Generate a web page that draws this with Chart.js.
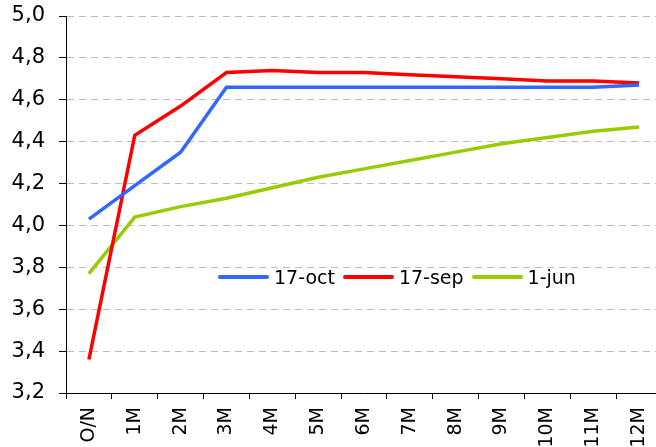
<!DOCTYPE html>
<html>
<head>
<meta charset="utf-8">
<script src="https://cdn.jsdelivr.net/npm/chart.js@4/dist/chart.umd.min.js"></script>
<style>
  html, body { margin: 0; padding: 0; background: #fff; overflow: hidden; }
  #wrap { position: relative; width: 662px; height: 447px; }
  #legend {
    position: absolute; left: 218px; top: 266px;
    font-family: "DejaVu Sans", Verdana, sans-serif; font-size: 19px; color: #000;
    display: flex; align-items: center; white-space: nowrap;
  }
  .item { display: flex; align-items: center; margin-right: 8px; }
  .swatch { width: 51px; height: 4px; border-radius: 2px; margin-right: 5px; }
</style>
</head>
<body>
<div id="wrap">
  <canvas id="curvaChart" width="662" height="447"></canvas>
  <div id="legend"></div>
</div>
<script>
// Plazos de la curva
const plazos = ['O/N', '1M', '2M', '3M', '4M', '5M', '6M', '7M', '8M', '9M', '10M', '11M', '12M'];

// Series (tipos %)
const oct17 = [4.03, 4.19, 4.35, 4.66, 4.66, 4.66, 4.66, 4.66, 4.66, 4.66, 4.66, 4.66, 4.67];
const sep17 = [3.36, 4.43, 4.57, 4.73, 4.74, 4.73, 4.73, 4.72, 4.71, 4.70, 4.69, 4.69, 4.68];
const jun1 = [3.77, 4.04, 4.09, 4.13, 4.18, 4.23, 4.27, 4.31, 4.35, 4.39, 4.42, 4.45, 4.47];

const nombres = ['17-oct', '17-sep', '1-jun'];
const colores = ['#3366ff', '#ff0000', '#99cc00'];

const yMin = 3.2, yMax = 5.0, yPaso = 0.2;

const familia = '"DejaVu Sans", Verdana, sans-serif';

const datasets = [oct17, sep17, jun1].map((serie, i) => ({
    label: nombres[i],
    data: serie,
    borderColor: colores[i],
    backgroundColor: colores[i],
    borderWidth: 3.5,
    pointRadius: 0,
    tension: 0,
    fill: false
}));

const ctx = document.getElementById('curvaChart').getContext('2d');
new Chart(ctx, {
    type: 'line',
    data: { labels: plazos, datasets: datasets },
    options: {
        responsive: false,
        animation: false,
        layout: { padding: { top: 16, right: 0, left: 0, bottom: 0 } },
        plugins: { legend: { display: false }, tooltip: { enabled: false } },
        scales: {
            x: {
                offset: true,
                grid: { display: true, offset: true, drawOnChartArea: false, color: '#000', tickLength: 6 },
                border: { display: true, color: '#000', width: 1 },
                ticks: { color: '#000', font: { family: familia, size: 19 }, minRotation: 90, maxRotation: 90, padding: 8, autoSkip: false },
                afterFit: (scale) => {
                    scale.height = 54;
                    scale.paddingLeft = 0; scale.paddingRight = 0;
                }
            },
            y: {
                min: yMin, max: yMax,
                grid: { color: '#bdbdbd', tickColor: '#000', tickLength: 7, drawTicks: true },
                border: { display: true, color: '#000', width: 1, dash: [7, 5] },
                ticks: {
                    stepSize: yPaso, color: '#000', font: { family: familia, size: 21 }, padding: 14,
                    callback: (v) => v.toFixed(1).replace('.', ',')
                },
                afterFit: (scale) => {
                    scale.width = 66;
                    scale.paddingTop = 0; scale.paddingBottom = 0;
                }
            }
        }
    }
});

// Leyenda HTML
document.getElementById('legend').innerHTML = nombres.map((n, i) =>
    `<div class="item"><span class="swatch" style="background:${colores[i]}"></span>${n}</div>`
).join('');
</script>
</body>
</html>
